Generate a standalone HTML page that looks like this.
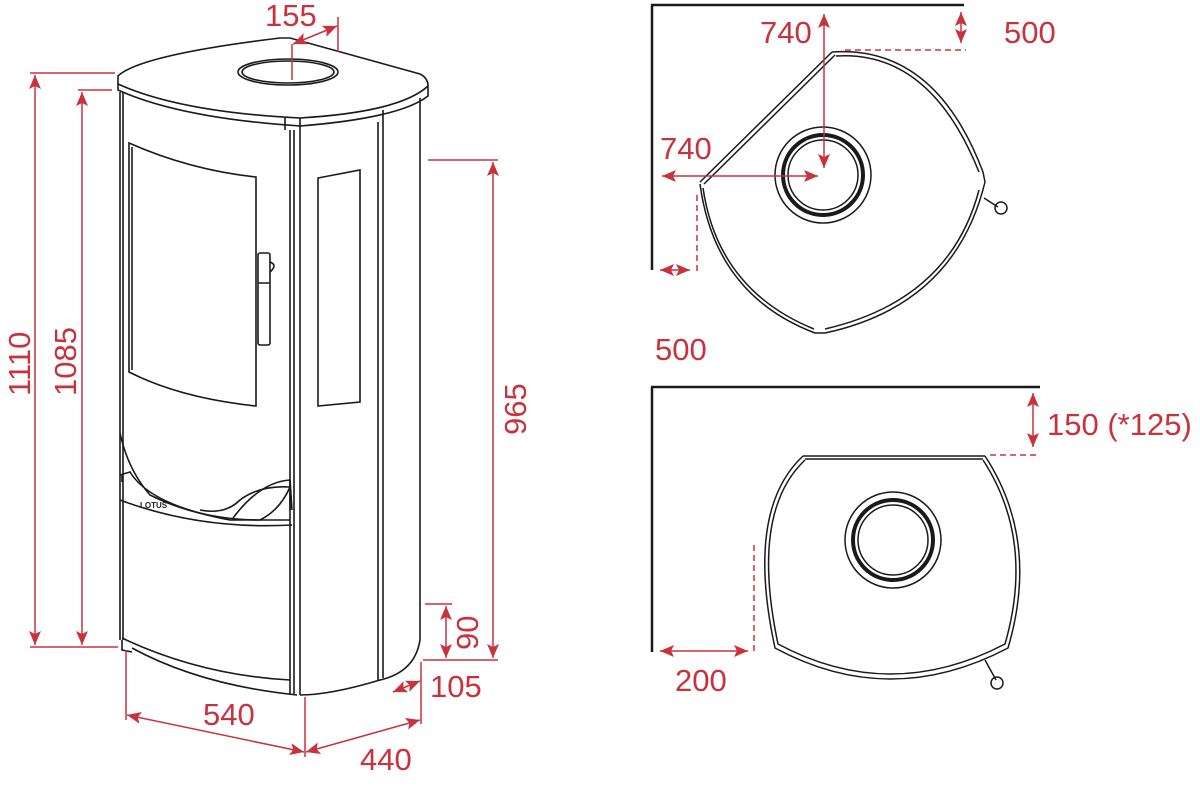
<!DOCTYPE html>
<html><head><meta charset="utf-8"><style>
html,body{margin:0;padding:0;background:#fff;width:1200px;height:792px;overflow:hidden}
text{font-family:"Liberation Sans",sans-serif;fill:#c9323d;font-size:31px}
</style></head><body>
<svg width="1200" height="792" viewBox="0 0 1200 792" xmlns="http://www.w3.org/2000/svg">
<defs>
<marker id="a" viewBox="0 0 14 12" refX="14" refY="6" markerWidth="14" markerHeight="12" orient="auto-start-reverse" markerUnits="userSpaceOnUse"><path d="M0,0 L14,6 L0,12 L3,6 z" fill="#c9323d"/></marker>
</defs>
<g fill="none" stroke="#1a1a1a" stroke-width="1.6">
<!-- lid -->
<path d="M118,76 Q140,55 280,38 L290,38 L420,74 Q428,78 428,86 L428,96 Q400,118 300,126 Q180,118 118,90 Z" fill="#fff"/>
<path d="M118,84 Q180,112 300,118 Q400,112 428,86"/>
<path d="M285,118 L285,130 M300,118 L300,130 M383,110 L383,122"/>
<ellipse cx="288" cy="72" rx="50" ry="13"/>
<ellipse cx="288" cy="72" rx="46" ry="11"/>
<!-- body -->
<path d="M120,92 L120,640"/>
<path d="M123,92 L123,640"/>
<path d="M420,98 L420,640 Q415,672 380,680 Q330,695 300,695"/>
<path d="M290,130 L290,695 M294,130 L294,695 M300,130 L300,695"/>
<path d="M378,122 L378,680 M383,122 L383,678"/>
<path d="M122,640 L122,650 L132,652 M132,648 Q200,685 297,695"/>
<path d="M122,638 Q200,675 290,680"/>
<!-- glass -->
<path d="M129,143 Q190,170 256,177 L256,406 Q180,398 129,372 Z"/>
<path d="M132,147 L132,370"/>
<!-- handle -->
<rect x="258" y="253" width="12" height="92" rx="2"/>
<path d="M258,283 L270,283 M270,262 Q278,265 270,272"/>
<!-- side window -->
<path d="M318,178 L360,170 L360,402 L318,406 Z"/>
<!-- lower front -->
<path d="M120,433 Q128,470 150,495 Q200,520 260,520 Q280,510 290,487 Q260,485 240,500 Q225,515 200,510"/>
<path d="M120,475 L130,472 Q150,505 230,520 L290,520"/>
<path d="M122,475 L122,482 M290,480 L290,510"/>
<path d="M233,518 Q260,482 290,480 L292,510"/>
<path d="M120,500 Q200,530 292,525"/>
</g>
<text x="140" y="508" style="font-size:8px;fill:#222;font-weight:bold">LOTUS</text>

<!-- red dims left -->
<g stroke="#c9323d" stroke-width="1.5" fill="none">
<path d="M30,73 L115,73 M30,647 L118,647 M78,90 L112,90"/>
<path d="M35,75 L35,645" marker-start="url(#a)" marker-end="url(#a)"/>
<path d="M82,92 L82,645" marker-start="url(#a)" marker-end="url(#a)"/>
<path d="M428,160 L498,160 M423,660 L498,660 M425,604 L452,604"/>
<path d="M493,162 L493,658" marker-start="url(#a)" marker-end="url(#a)"/>
<path d="M446,606 L446,658" marker-start="url(#a)" marker-end="url(#a)"/>
<path d="M126,650 L126,720 M305,697 L305,757 M421,662 L421,724 M338,17 L338,52 M292,44 L292,80"/>
<path d="M127,715 L304,752" marker-start="url(#a)" marker-end="url(#a)"/>
<path d="M306,752 L420,720" marker-start="url(#a)" marker-end="url(#a)"/>
<path d="M393,692 L420,681" marker-start="url(#a)" marker-end="url(#a)"/>
<path d="M293,44 L337,26" marker-start="url(#a)" marker-end="url(#a)"/>
</g>
<text x="265" y="26">155</text>
<text transform="translate(30,396) rotate(-90)">1110</text>
<text transform="translate(76,396) rotate(-90)">1085</text>
<text transform="translate(526,435) rotate(-90)">965</text>
<text transform="translate(478,650) rotate(-90)">90</text>
<text x="430" y="697">105</text>
<text x="203" y="725">540</text>
<text x="360" y="770">440</text>

<!-- top right plan -->
<g fill="none" stroke="#1a1a1a">
<path d="M652,5 L652,270 M651,5 L964,5" stroke-width="2.5"/>
<g stroke-width="1.5">
<path d="M832,52 L700,182 M835,55 L704,184"/>
<path d="M832,52 Q935,45 983,172 L985,182 Q955,305 825,333 L815,333 Q715,295 700,184"/>
<path d="M836,56 Q930,50 979,172 M979,190 Q950,300 825,329 M814,329 Q718,290 703,188"/>
<path d="M984,198 L998,207"/><circle cx="1001" cy="208" r="6"/>
<circle cx="823" cy="175" r="48"/>
<circle cx="823" cy="175" r="40" stroke-width="4"/>
<circle cx="823" cy="175" r="35"/>
</g>
</g>
<g stroke="#c9323d" stroke-width="1.5" fill="none">
<path d="M824,14 L824,168" marker-start="url(#a)" marker-end="url(#a)"/>
<path d="M961,12 L961,43" marker-start="url(#a)" marker-end="url(#a)"/>
<path d="M662,176 L818,176" marker-start="url(#a)" marker-end="url(#a)"/>
<path d="M660,270 L690,270" marker-start="url(#a)" marker-end="url(#a)"/>
<path d="M845,50 L966,50 M697,195 L697,272" stroke-dasharray="6,4"/>
</g>
<text x="760" y="43">740</text>
<text x="1004" y="43">500</text>
<text x="660" y="159">740</text>
<text x="655" y="360">500</text>

<!-- bottom right plan -->
<g fill="none" stroke="#1a1a1a">
<path d="M652,387 L652,652 M651,387 L1040,387" stroke-width="2.5"/>
<g stroke-width="1.5">
<path d="M803,456 L985,456 M805,459 L983,459"/>
<path d="M803,456 Q745,510 775,648 Q890,710 1008,648 Q1040,540 985,456"/>
<path d="M805,460 Q750,512 778,644 Q890,704 1005,644 Q1035,540 983,460"/>
<path d="M985,660 L996,680"/><circle cx="997" cy="683" r="6"/>
<circle cx="893" cy="540" r="48"/>
<circle cx="893" cy="540" r="40" stroke-width="4"/>
<circle cx="893" cy="540" r="35"/>
</g>
</g>
<g stroke="#c9323d" stroke-width="1.5" fill="none">
<path d="M1033,393 L1033,447" marker-start="url(#a)" marker-end="url(#a)"/>
<path d="M660,651 L748,651" marker-start="url(#a)" marker-end="url(#a)"/>
<path d="M990,455 L1040,455 M754,545 L754,652" stroke-dasharray="6,4"/>
</g>
<text x="1047" y="435">150 (*125)</text>
<text x="675" y="691">200</text>
</svg>
</body></html>
